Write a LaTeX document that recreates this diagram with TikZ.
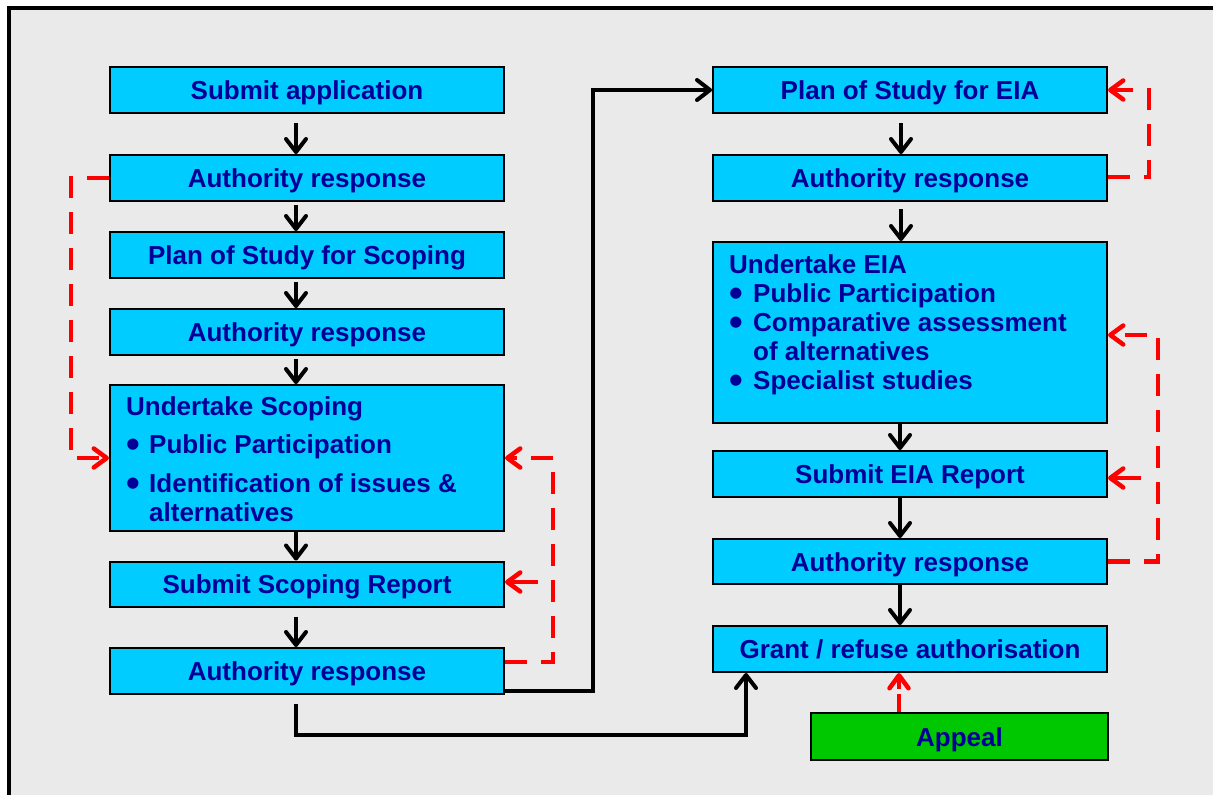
\documentclass[tikz,border=0pt]{standalone}
\usepackage{fontspec}
\usepackage{graphicx}
\setmainfont{Liberation Sans}
\usetikzlibrary{arrows.meta}
\definecolor{boxcyan}{HTML}{00CCFF}
\definecolor{txtblue}{HTML}{000099}
\definecolor{appealgreen}{HTML}{00C800}
\definecolor{panelgray}{HTML}{EAEAEA}
\definecolor{fbred}{HTML}{FF0000}
\newcommand\itembul[1][23pt]{\makebox[#1][l]{\smash{\raisebox{-4.5pt}{\scalebox{1.5}{\textbullet}}}}}
\begin{document}
\begin{tikzpicture}[x=1pt,y=-1pt,
  box/.style={draw=black, line width=2pt, fill=boxcyan, minimum width=394pt,
    minimum height=46pt, inner sep=0pt, text=txtblue,
    text height=19pt, text depth=0pt,
    font=\fontsize{26}{30}\selectfont\bfseries},
  boxtext/.style={align=left, inner sep=0pt, text=txtblue,
    font=\fontsize{26}{29}\selectfont\bfseries},
  flow/.style={draw=black, line width=4pt,
    -{Straight Barb[length=13pt,width=20pt,round]}},
  fb/.style={draw=fbred, line width=4.5pt, dash pattern=on 22pt off 14pt,
    -{Straight Barb[length=13pt,width=19pt,round]}},
  fbshort/.style={fb, solid}]
\useasboundingbox (0,0) rectangle (1213,795);
\clip (0,0) rectangle (1213,795);
\fill[white] (0,0) rectangle (1213,795);
\draw[line width=4pt, fill=panelgray] (8.5,7.5) rectangle (1240,830);

% scoping stage
\node[box] (sa)   at (307,90)  {Submit application};
\node[box] (ar1)  at (307,178) {Authority response};
\node[box] (pss)  at (307,255) {Plan of Study for Scoping};
\node[box] (ar2)  at (307,332) {Authority response};
\node[box, minimum height=146pt] (scop) at (307,458) {};
\node[boxtext, anchor=north west] (scopt) at (126,396)
  {Undertake Scoping\\[9pt]
   \itembul Public Participation\\[10pt]
   \itembul Identification of issues \&\\
   \hspace*{23pt}alternatives};
\node[box, minimum height=45pt] (ssr) at (307,584) {Submit Scoping Report};
\node[box] (ar3)  at (307,671) {Authority response};

% EIA stage
\node[box] (pe)   at (910,90)  {Plan of Study for EIA};
\node[box] (ar4)  at (910,178) {Authority response};
\node[box, minimum height=181pt] (eia) at (910,332.5) {};
\node[boxtext, anchor=north west] (eiat) at (729,254)
  {Undertake EIA\\
   \itembul[24pt]Public Participation\\
   \itembul[24pt]Comparative assessment\\
   \hspace*{24pt}of alternatives\\
   \itembul[24pt]Specialist studies};
\node[box] (seia) at (910,474) {Submit EIA Report};
\node[box, minimum height=45pt] (ar5) at (910,561.5) {Authority response};
\node[box] (grant) at (910,649) {Grant / refuse authorisation};
\node[box, fill=appealgreen, minimum width=297pt, minimum height=47pt]
  (appeal) at (959.5,736.5) {Appeal};

% main flow
\draw[flow] ([xshift=-11pt,yshift=-9pt]sa.south) -- ([xshift=-11pt]ar1.north);
\draw[flow] ([xshift=-11pt,yshift=-3pt]ar1.south) -- ([xshift=-11pt]pss.north);
\draw[flow] ([xshift=-11pt,yshift=-3pt]pss.south) -- ([xshift=-11pt]ar2.north);
\draw[flow] ([xshift=-11pt,yshift=-3pt]ar2.south) -- ([xshift=-11pt]scop.north);
\draw[flow] ([xshift=-11pt]scop.south) -- ([xshift=-11pt]ssr.north);
\draw[flow] ([xshift=-11pt,yshift=-9pt]ssr.south) -- ([xshift=-11pt]ar3.north);

\draw[flow] ([xshift=-9pt,yshift=-9pt]pe.south) -- ([xshift=-9pt]ar4.north);
\draw[flow] ([xshift=-9pt,yshift=-7pt]ar4.south) -- ([xshift=-9pt]eia.north);
\draw[flow] ([xshift=-10pt]eia.south) -- ([xshift=-10pt]seia.north);
\draw[flow] ([xshift=-10pt]seia.south) -- ([xshift=-10pt]ar5.north);
\draw[flow] ([xshift=-10pt]ar5.south) -- ([xshift=-10pt]grant.north);

\draw[flow] ([yshift=-20pt]ar3.east) -- ++(88,0) |- (pe.west);
\coordinate (jn) at (746,735);
\draw[flow] ([xshift=-11pt,yshift=-9pt]ar3.south) |- (jn) -- ([xshift=-164pt]grant.south);

% feedback loops
\draw[fb] (ar1.west) -- ++(-38,0) |- (scop.west);
\draw[fb] ([yshift=9pt]ar3.east) -- ++(48,0) |- (scop.east);
\draw[fbshort] ([xshift=33pt,yshift=2pt]ssr.east) -- ([yshift=2pt]ssr.east);
\draw[fb] ([yshift=1pt]ar4.east) -- ++(41,0) |- (pe.east);
\draw[fb] (ar5.east) -- ++(50,0) |- ([yshift=-2.5pt]eia.east);
\draw[fbshort] ([xshift=33pt,yshift=-4pt]seia.east) -- ([yshift=-4pt]seia.east);
\draw[fb, dash pattern=on 18pt off 5pt]
  ([xshift=-60.5pt]appeal.north) -- ([xshift=-11pt]grant.south);
\end{tikzpicture}
\end{document}
